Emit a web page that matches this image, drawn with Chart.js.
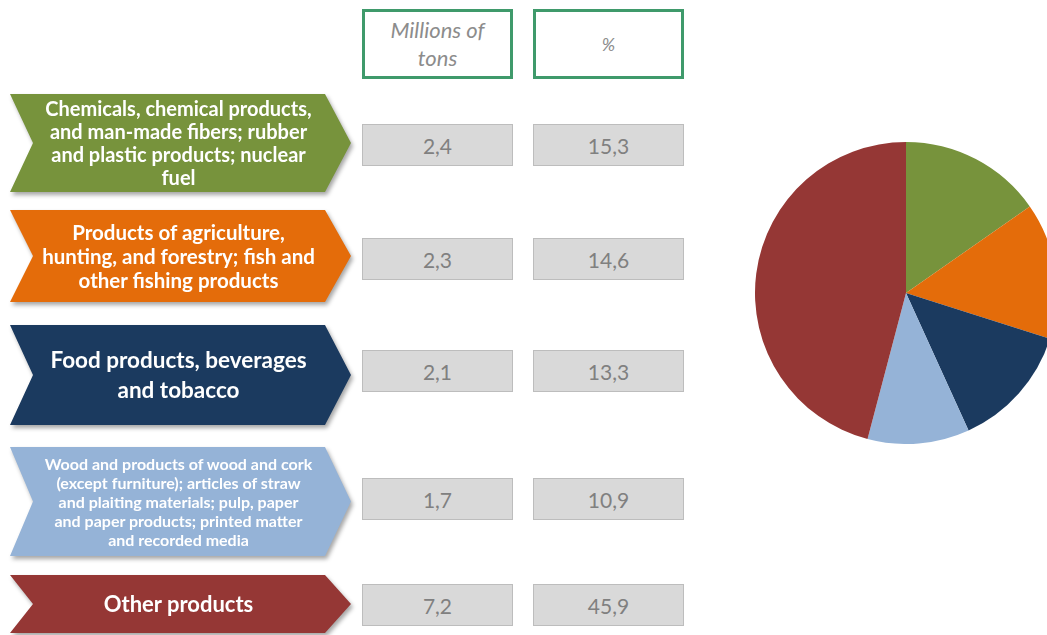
<!DOCTYPE html>
<html>
<head>
<meta charset="utf-8">
<script src="https://cdn.jsdelivr.net/npm/chart.js@4.4.1/dist/chart.umd.min.js"></script>
<style>
  html, body { margin: 0; padding: 0; width: 1047px; height: 635px; overflow: hidden; background: #fff; }
  body { position: relative; font-family: Lato, "Open Sans", sans-serif; }
  .head { position: absolute; top: 9px; width: 151px; height: 70px; box-sizing: border-box;
          border: 3px solid #3f9a6b; background: #fff; color: #8c8c8c; font-style: italic;
          display: flex; align-items: center; justify-content: center; text-align: center; }
  .wrap { position: absolute; left: 10px; width: 341px; filter: drop-shadow(2px 3px 2px rgba(0,0,0,0.35)); }
  .chev { width: 100%; height: 100%; color: #fff; font-weight: bold; text-align: center; white-space: nowrap;
          display: flex; align-items: center; justify-content: center; box-sizing: border-box;
          padding: 0 28px 0 24px; clip-path: polygon(0 0, 315px 0, 100% 50%, 315px 100%, 0 100%, 23px 50%); }
  .val { position: absolute; width: 151px; height: 42px; box-sizing: border-box;
         background: #d9d9d9; border: 1px solid #bdbdbd; color: #808080;
         display: flex; align-items: center; justify-content: center; font-size: 21px; }
  #pie { position: absolute; left: 755px; top: 142px; }
</style>
</head>
<body>
<div class="head" style="left:362px; font-size:22px; line-height:28px;">Millions of<br>tons</div>
<div class="head" style="left:533px; font-size:18px;">%</div>
<canvas id="pie" width="302" height="302"></canvas>
<script>
const categories = [
  ['Chemicals, chemical products,', 'and man-made fibers; rubber', 'and plastic products; nuclear', 'fuel'],
  ['Products of agriculture,', 'hunting, and forestry; fish and', 'other fishing products'],
  ['Food products,  beverages', 'and tobacco'],
  ['Wood and products of wood and cork', '(except furniture); articles of straw', 'and plaiting materials; pulp, paper', 'and paper products; printed matter', 'and recorded media'],
  ['Other products']
];
const tons = ['2,4', '2,3', '2,1', '1,7', '7,2'];
const percents = [15.3, 14.6, 13.3, 10.9, 45.9];
const colors = ['#77933c', '#e46c0a', '#1b3a5f', '#95b3d7', '#953735'];

// row layout: chevron top/height, value box top, label font size / line height
const rows = [
  { top: 94, h: 98, box: 124, fs: 20, lh: 23 },
  { top: 210, h: 92, box: 238, fs: 20.5, lh: 24 },
  { top: 325, h: 100, box: 350, fs: 22.5, lh: 30 },
  { top: 447, h: 109, box: 478, fs: 16, lh: 19 },
  { top: 575, h: 58, box: 584, fs: 22, lh: 24 }
];

categories.forEach((lines, i) => {
  const r = rows[i];
  const wrap = document.createElement('div');
  wrap.className = 'wrap';
  wrap.style.top = r.top + 'px';
  wrap.style.height = r.h + 'px';
  const chev = document.createElement('div');
  chev.className = 'chev';
  chev.style.background = colors[i];
  chev.style.fontSize = r.fs + 'px';
  chev.style.lineHeight = r.lh + 'px';
  const span = document.createElement('span');
  lines.forEach((ln, k) => {
    if (k) span.appendChild(document.createElement('br'));
    span.appendChild(document.createTextNode(ln));
  });
  chev.appendChild(span);
  wrap.appendChild(chev);
  document.body.appendChild(wrap);

  [[362, tons[i]], [533, percents[i].toFixed(1).replace('.', ',')]].forEach(([x, t]) => {
    const b = document.createElement('div');
    b.className = 'val';
    b.style.left = x + 'px';
    b.style.top = r.box + 'px';
    b.textContent = t;
    document.body.appendChild(b);
  });
});

new Chart(document.getElementById('pie'), {
  type: 'pie',
  data: {
    labels: categories.map(l => l.join(' ')),
    datasets: [{
      data: percents,
      backgroundColor: colors,
      borderWidth: 0
    }]
  },
  options: {
    responsive: false,
    animation: false,
    layout: { padding: 0 },
    plugins: { legend: { display: false }, tooltip: { enabled: false } }
  }
});
</script>
</body>
</html>
